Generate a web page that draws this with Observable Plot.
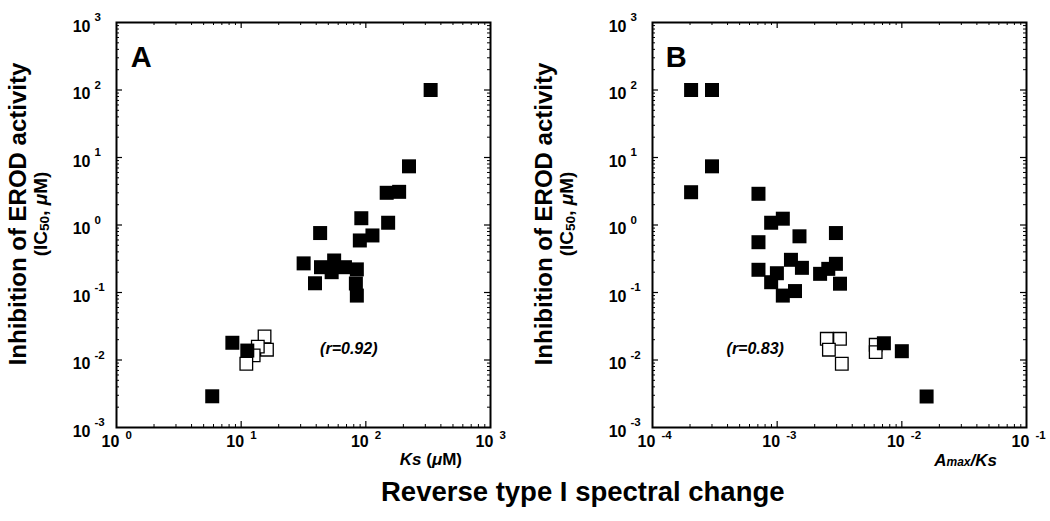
<!DOCTYPE html>
<html>
<head>
<meta charset="utf-8">
<script src="https://cdn.jsdelivr.net/npm/d3@7"></script>
<script src="https://cdn.jsdelivr.net/npm/@observablehq/plot@0.6"></script>
<style>
  html, body { margin: 0; padding: 0; background: #fff; }
  #wrap { position: relative; width: 1050px; height: 521px; overflow: hidden; font-family: "Liberation Sans", Arial, Helvetica, sans-serif; color: #000; }
  .panel { position: absolute; top: 0; }
  .ylab { position: absolute; transform: translate(-50%, -50%) rotate(-90deg); white-space: nowrap; text-align: center; font-weight: bold; }
  .ylab .l1 { font-size: 24px; line-height: 24px; }
  .ylab .l2 { font-size: 19px; line-height: 22px; }
  .ylab sub { font-size: 0.72em; vertical-align: -0.15em; }
  .xt { position: absolute; font-weight: bold; font-size: 17px; white-space: nowrap; }
  .title { position: absolute; left: 381px; white-space: nowrap; font-weight: bold; font-size: 27.5px; top: 476px; }
</style>
</head>
<body>
<div id="wrap">
  <div class="panel" id="pa" style="left:0"></div>
  <div class="panel" id="pb" style="left:525px"></div>
  <div class="ylab" style="left:31px; top:214px;"><div class="l1">Inhibition of EROD activity</div><div class="l2">(IC<sub>50</sub>, <i>μ</i>M)</div></div>
  <div class="ylab" style="left:557px; top:214px;"><div class="l1">Inhibition of EROD activity</div><div class="l2">(IC<sub>50</sub>, <i>μ</i>M)</div></div>
  <div class="xt" style="right:588px; top:450px;"><i>Ks</i> (<i>μ</i>M)</div>
  <div class="xt" style="right:53px; top:451px;"><i>A<span style="font-size:12px">max</span>/Ks</i></div>
  <div class="title">Reverse type I spectral change</div>
</div>
<script>
// ---- Data ----
// Panel A: Ks (µM) vs IC50 (µM)
const aFilledKs   = [331, 222, 147, 185, 151, 92, 113, 89.5, 43, 31.7, 43.7, 55.7, 68, 53.2, 84.7, 39.1, 83.2, 84.7, 8.5, 11.2, 5.86];
const aFilledIC50 = [100, 7.4, 3.0, 3.1, 1.08, 1.26, 0.70, 0.59, 0.76, 0.27, 0.237, 0.298, 0.237, 0.2, 0.22, 0.137, 0.136, 0.09, 0.018, 0.0138, 0.0029];
const aOpenKs     = [15.4, 16.1, 13.6, 12.6, 11.0];
const aOpenIC50   = [0.0223, 0.0142, 0.0158, 0.0117, 0.0088];
// Panel B: Amax/Ks vs IC50 (µM)
const bFilledRatio = [2.04e-4, 3.0e-4, 3.0e-4, 2.04e-4, 7.08e-4, 1.11e-3, 8.95e-4, 1.51e-3, 2.96e-3, 7.08e-4, 7.08e-4, 9.95e-4, 8.95e-4, 1.11e-3, 1.39e-3, 1.29e-3, 1.58e-3, 2.21e-3, 2.57e-3, 2.96e-3, 3.19e-3, 7.18e-3, 1.0e-2, 1.58e-2];
const bFilledIC50  = [100, 100, 7.4, 3.06, 2.9, 1.24, 1.08, 0.68, 0.76, 0.556, 0.217, 0.193, 0.142, 0.090, 0.105, 0.305, 0.232, 0.189, 0.224, 0.266, 0.135, 0.0177, 0.0135, 0.00288];
const bOpenRatio   = [2.5e-3, 3.19e-3, 2.6e-3, 3.3e-3, 6.17e-3, 6.17e-3];
const bOpenIC50    = [0.0206, 0.0206, 0.0142, 0.0088, 0.0168, 0.0131];

// Tick values and labels
const yTicks   = [1e-3, 1e-2, 1e-1, 1, 10, 100, 1000];
const yTickExp = ["-3", "-2", "-1", "0", "1", "2", "3"];
const aXTicks   = [1, 10, 100, 1000];
const aXTickExp = ["0", "1", "2", "3"];
const bXTicks   = [1e-4, 1e-3, 1e-2, 1e-1];
const bXTickExp = ["-4", "-3", "-2", "-1"];

const panelLetters = ["A", "B"];
const rLabels = ["(r=0.92)", "(r=0.83)"];
const rPos = [{x: 73, y: 0.0148}, {x: 6.67e-4, y: 0.0148}];
const letterPos = [{x: 1.3, y: 300}, {x: 1.28e-4, y: 300}];

const FONT = '"Liberation Sans", Arial, Helvetica, sans-serif';

function minors(majors) {
  const out = [];
  for (let i = 0; i < majors.length - 1; i++)
    for (let k = 2; k <= 9; k++) out.push(majors[i] * k);
  return out;
}

function panel({xDomain, xTicks, xExp, filledX, filledY, openX, openY, letter, lpos, rText, rp, marginLeft, marginRight}) {
  const W = 525, H = 521, mt = 22, mb = 94;
  const iw = W - marginLeft - marginRight, ih = H - mt - mb;
  const filled = filledX.map((x, i) => ({x, y: filledY[i]}));
  const open = openX.map((x, i) => ({x, y: openY[i]}));
  const yMin = minors(yTicks), xMin = minors(xTicks);
  const lbl = {fontSize: 16, fontWeight: "bold", fill: "black"};
  const ex = {fontSize: 11.5, fontWeight: "bold", fill: "black"};
  return Plot.plot({
    width: W, height: H,
    marginLeft, marginRight, marginTop: mt, marginBottom: mb,
    style: {fontFamily: FONT, background: "white", overflow: "visible"},
    x: {type: "log", domain: xDomain, axis: null},
    y: {type: "log", domain: [1e-3, 1e3], axis: null},
    marks: [
      // inward ticks, all four sides
      Plot.tickY(yTicks.slice(1, -1), {y: d => d, insetRight: iw - 6, stroke: "black", strokeWidth: 1.2}),
      Plot.tickY(yMin, {y: d => d, insetRight: iw - 3, stroke: "black", strokeWidth: 1}),
      Plot.tickY(yTicks.slice(1, -1), {y: d => d, insetLeft: iw - 6, stroke: "black", strokeWidth: 1.2}),
      Plot.tickY(yMin, {y: d => d, insetLeft: iw - 3, stroke: "black", strokeWidth: 1}),
      Plot.tickX(xTicks.slice(1, -1), {x: d => d, insetTop: ih - 6, stroke: "black", strokeWidth: 1.2}),
      Plot.tickX(xMin, {x: d => d, insetTop: ih - 3, stroke: "black", strokeWidth: 1}),
      Plot.tickX(xTicks.slice(1, -1), {x: d => d, insetBottom: ih - 6, stroke: "black", strokeWidth: 1.2}),
      Plot.tickX(xMin, {x: d => d, insetBottom: ih - 3, stroke: "black", strokeWidth: 1}),
      Plot.frame({stroke: "black", strokeWidth: 2}),
      // y tick labels
      Plot.text(yTicks, {y: d => d, text: () => "10", frameAnchor: "left", textAnchor: "end", dx: -26, dy: 4, ...lbl}),
      Plot.text(yTicks, {y: d => d, text: (d, i) => yTickExp[i], frameAnchor: "left", textAnchor: "start", dx: -22, dy: -5, ...ex}),
      // x tick labels
      Plot.text(xTicks, {x: d => d, text: () => "10", frameAnchor: "bottom", textAnchor: "middle", dx: -6, dy: 19, ...lbl}),
      Plot.text(xTicks, {x: d => d, text: (d, i) => xExp[i], frameAnchor: "bottom", textAnchor: "start", dx: 9, dy: 11, ...ex}),
      // data
      Plot.dot(open, {x: "x", y: "y", symbol: "square", r: 7.1, fill: "white", stroke: "black", strokeWidth: 1.3}),
      Plot.dot(filled, {x: "x", y: "y", symbol: "square", r: 7.9, fill: "black", stroke: "none"}),
      // annotations
      Plot.text([lpos], {x: "x", y: "y", text: () => letter, textAnchor: "start", fontSize: 29, fontWeight: "bold", fill: "black"}),
      Plot.text([rp], {x: "x", y: "y", text: () => rText, textAnchor: "middle", fontSize: 16, fontWeight: "bold", fontStyle: "italic", fill: "black"})
    ]
  });
}

document.getElementById("pa").append(panel({
  xDomain: [1, 1000], xTicks: aXTicks, xExp: aXTickExp,
  filledX: aFilledKs, filledY: aFilledIC50, openX: aOpenKs, openY: aOpenIC50,
  letter: panelLetters[0], lpos: letterPos[0], rText: rLabels[0], rp: rPos[0],
  marginLeft: 116, marginRight: 35
}));
document.getElementById("pb").append(panel({
  xDomain: [1e-4, 1e-1], xTicks: bXTicks, xExp: bXTickExp,
  filledX: bFilledRatio, filledY: bFilledIC50, openX: bOpenRatio, openY: bOpenIC50,
  letter: panelLetters[1], lpos: letterPos[1], rText: rLabels[1], rp: rPos[1],
  marginLeft: 127, marginRight: 24
}));
</script>
</body>
</html>
